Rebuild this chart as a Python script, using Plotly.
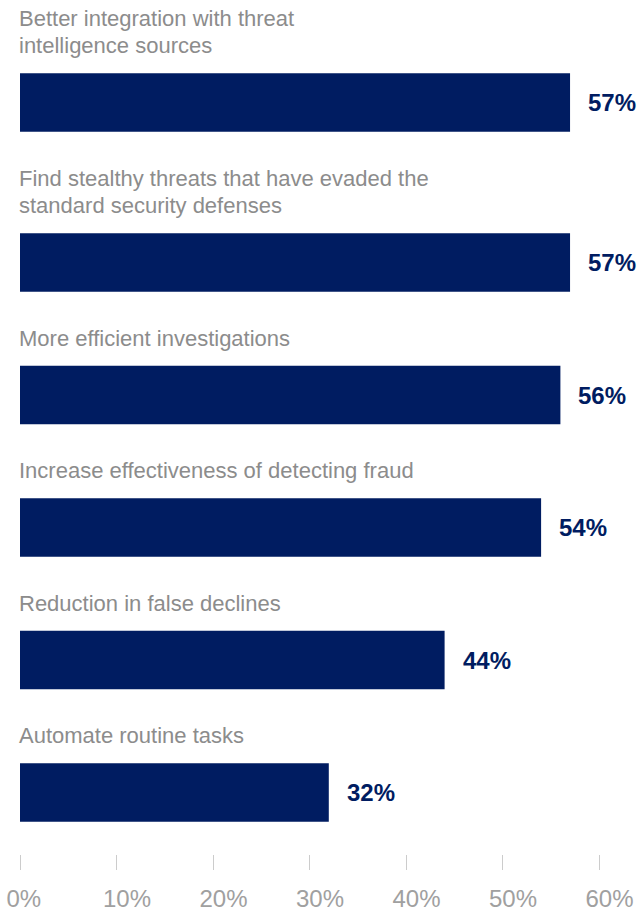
import plotly.graph_objects as go

# Survey responses: share of respondents citing each benefit
categories = [
    "Better integration with threat<br>intelligence sources",
    "Find stealthy threats that have evaded the<br>standard security defenses",
    "More efficient investigations",
    "Increase effectiveness of detecting fraud",
    "Reduction in false declines",
    "Automate routine tasks",
]
values = [57, 57, 56, 54, 44, 32]
tick_values = [0, 10, 20, 30, 40, 50, 60]

BAR_COLOR = "#001c61"
LABEL_GRAY = "#8c8c8c"
TICK_GRAY = "#a0a0a0"
FONT = "Liberation Sans, Arial, sans-serif"

# Vertical layout in pixel units: each block is a (possibly multi-line)
# label followed by its bar.
LINE_H = 27.5      # spacing between label lines
LABEL_TO_BAR = 57  # last label line centre -> bar centre
BAR_TO_NEXT = 75.5 # bar centre -> next label's first line centre
BAR_THICK = 58.5
PLOT_H = 854

centers, label_lines = [], []
cursor = 18
for cat in categories:
    lines = cat.split("<br>")
    label_lines.append([(cursor + LINE_H * k, txt) for k, txt in enumerate(lines)])
    c = cursor + LINE_H * (len(lines) - 1) + LABEL_TO_BAR
    centers.append(c)
    cursor = c + BAR_TO_NEXT

fig = go.Figure(
    go.Bar(
        x=values,
        y=centers,
        orientation="h",
        width=BAR_THICK,
        marker=dict(color=BAR_COLOR, line=dict(width=0)),
        hoverinfo="skip",
    )
)

annotations = []
for lines in label_lines:
    for y, txt in lines:
        annotations.append(dict(
            x=0, y=y, xref="x", yref="y", text=txt, showarrow=False,
            xanchor="left", yanchor="middle", xshift=-3,
            font=dict(family=FONT, size=22, color=LABEL_GRAY),
        ))
for v, c in zip(values, centers):
    annotations.append(dict(
        x=v, y=c, xref="x", yref="y", text=f"<b>{v}%</b>", showarrow=False,
        xanchor="left", yanchor="middle", xshift=16,
        font=dict(family=FONT, size=24, color=BAR_COLOR),
    ))

fig.update_layout(
    width=637,
    height=913,
    margin=dict(l=20, r=38, t=0, b=913 - PLOT_H),
    paper_bgcolor="white",
    plot_bgcolor="white",
    showlegend=False,
    annotations=annotations,
    xaxis=dict(
        range=[0, 60],
        tickvals=tick_values,
        ticktext=[f"{t}%" for t in tick_values],
        ticks="outside",
        ticklen=15,
        tickwidth=1,
        tickcolor="#cccccc",
        showgrid=False,
        zeroline=False,
        showline=False,
        ticklabelposition="outside right",
        ticklabelshift=-14,
        ticklabelstandoff=23,
        tickfont=dict(family=FONT, size=24, color=TICK_GRAY),
        fixedrange=True,
    ),
    yaxis=dict(
        range=[PLOT_H, 0],
        visible=False,
        fixedrange=True,
    ),
)

fig.write_html("out.html")
